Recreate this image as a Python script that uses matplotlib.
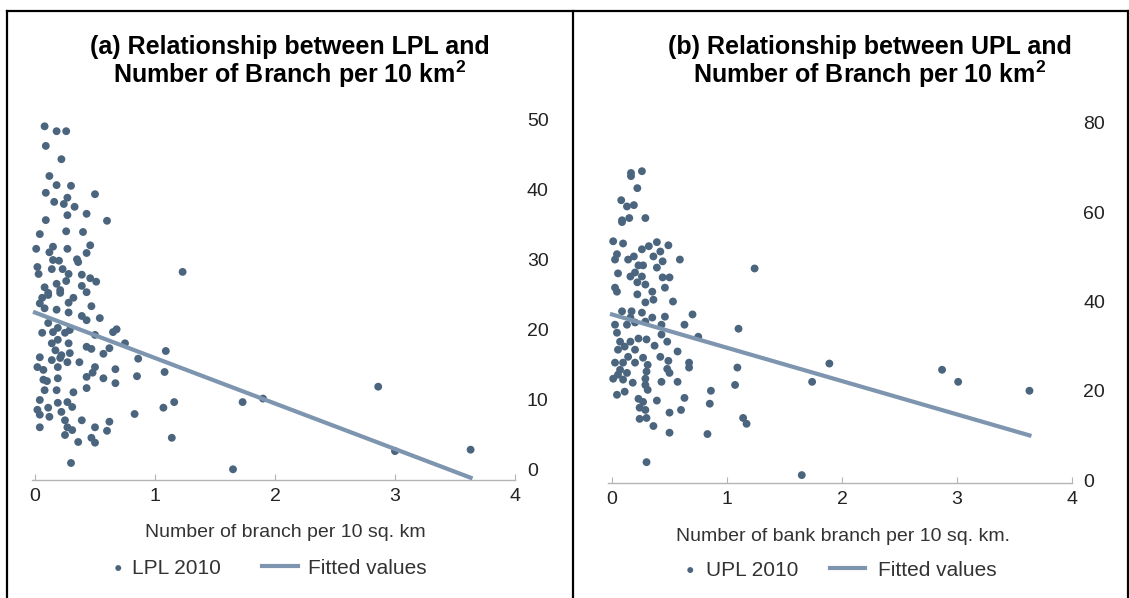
import matplotlib
matplotlib.use("Agg")
import matplotlib.pyplot as plt
from matplotlib.lines import Line2D

plt.rcParams["font.family"] = ["Liberation Sans", "DejaVu Sans"]
plt.rcParams["mathtext.fontset"] = "custom"
plt.rcParams["mathtext.rm"] = "Liberation Sans"
plt.rcParams["mathtext.bf"] = "Liberation Sans:bold"

# Panel (a): LPL 2010 vs branches per 10 sq. km
lpl_x = [0.08, 0.18, 0.26, 0.09, 0.22, 0.12, 0.18, 0.30, 0.09, 0.50,
         0.27, 0.16, 0.24, 0.33, 0.43, 0.27, 0.09, 0.60, 0.04, 0.26,
         0.40, 0.46, 0.01, 0.15, 0.12, 0.27, 0.43, 0.35, 0.36, 0.15,
         0.20, 0.02, 0.03, 0.14, 0.23, 0.28, 0.39, 0.46, 0.51, 0.26,
         0.18, 0.08, 0.39, 0.21, 0.43, 0.11, 0.06, 0.32, 1.23, 0.11,
         0.21, 0.04, 0.28, 0.47, 0.08, 0.18, 0.28, 0.39, 0.43, 0.54,
         0.11, 0.19, 0.29, 0.06, 0.15, 0.25, 0.65, 0.68, 0.50, 0.14,
         0.19, 0.28, 0.43, 0.47, 0.62, 0.75, 0.17, 0.22, 0.29, 0.57,
         0.04, 0.14, 0.21, 0.27, 0.37, 0.02, 0.07, 0.19, 0.50, 0.67,
         0.48, 0.43, 0.57, 0.07, 0.10, 0.19, 0.67, 0.08, 0.18, 0.32,
         0.43, 0.04, 0.19, 0.27, 0.31, 0.02, 0.11, 0.04, 0.12, 0.22,
         0.25, 0.39, 0.62, 0.04, 0.27, 0.31, 0.50, 0.60, 0.25, 0.47,
         0.36, 0.50, 0.30, 0.83, 1.07, 1.16, 1.14, 0.85, 0.86, 1.08,
         1.09, 1.73, 1.90, 1.65, 2.86, 3.00, 3.63]
lpl_y = [49.1, 48.4, 48.4, 46.3, 44.4, 42.0, 40.7, 40.6, 39.6, 39.4,
         38.9, 38.3, 38.0, 37.6, 36.6, 36.4, 35.7, 35.6, 33.7, 34.1,
         34.0, 32.1, 31.6, 31.9, 31.1, 31.6, 31.0, 30.1, 29.7, 30.0,
         29.9, 29.0, 28.0, 28.7, 28.7, 28.0, 27.9, 27.4, 26.9, 27.0,
         26.6, 26.1, 26.3, 25.7, 25.4, 25.0, 24.6, 24.6, 28.3, 25.3,
         25.3, 23.8, 23.9, 23.4, 23.1, 22.9, 22.5, 22.0, 21.4, 21.7,
         21.0, 20.3, 20.0, 19.6, 19.7, 19.6, 19.7, 20.1, 19.3, 18.1,
         18.6, 18.1, 17.6, 17.3, 17.4, 18.1, 17.1, 16.4, 16.7, 16.6,
         16.1, 15.7, 16.0, 15.4, 15.4, 14.7, 14.3, 14.7, 14.7, 14.4,
         13.9, 13.3, 13.1, 12.9, 12.7, 13.1, 12.4, 11.4, 11.4, 11.1,
         11.7, 10.0, 9.6, 9.7, 9.0, 8.6, 8.9, 7.9, 7.6, 8.3,
         7.1, 7.1, 6.9, 6.1, 6.1, 5.7, 6.1, 5.6, 5.0, 4.6,
         4.0, 3.9, 1.0, 8.0, 8.9, 9.7, 4.6, 13.4, 15.9, 14.0,
         17.0, 9.7, 10.2, 0.1, 11.9, 2.7, 2.9]
lpl_fit_x = [0.0, 3.63]
lpl_fit_y = [22.5, -1.1]

# Panel (b): UPL 2010 vs bank branches per 10 sq. km
upl_x = [0.165, 0.165, 0.26, 0.22, 0.08, 0.13, 0.19, 0.087, 0.087, 0.15,
         0.29, 0.01, 0.096, 0.39, 0.49, 0.32, 0.26, 0.42, 0.043, 0.19,
         0.36, 0.026, 0.14, 0.59, 0.44, 0.27, 0.23, 0.39, 0.052, 0.20,
         0.26, 0.16, 0.44, 0.50, 0.22, 0.29, 0.026, 0.46, 0.35, 0.22,
         0.043, 0.36, 0.53, 0.29, 0.087, 0.17, 0.26, 0.70, 0.16, 0.35,
         0.46, 0.026, 0.20, 0.63, 1.24, 1.10, 0.13, 0.29, 0.43, 0.043,
         0.43, 0.75, 0.07, 0.16, 0.23, 0.30, 0.37, 0.48, 0.11, 0.052,
         0.20, 0.57, 0.14, 0.27, 0.42, 0.026, 0.096, 0.20, 0.31, 0.49,
         0.67, 0.67, 0.07, 0.13, 0.30, 0.48, 0.50, 0.052, 0.096, 0.29,
         0.01, 0.18, 0.43, 0.57, 0.29, 0.31, 0.11, 0.043, 0.23, 0.27,
         0.39, 0.63, 0.24, 0.29, 0.50, 0.60, 0.24, 0.30, 0.36, 0.50,
         0.30, 1.09, 1.07, 0.86, 0.85, 0.83, 1.14, 1.17, 1.65, 1.74,
         1.89, 2.87, 3.01, 3.63]
upl_y = [68.8, 68.1, 69.2, 65.4, 62.7, 61.3, 61.6, 58.2, 57.8, 58.7,
         58.7, 53.5, 53.0, 53.3, 52.6, 52.4, 51.7, 51.2, 50.6, 50.1,
         50.1, 49.4, 49.4, 49.4, 49.0, 48.1, 48.1, 47.6, 46.3, 46.5,
         45.6, 45.6, 45.4, 45.4, 44.3, 43.8, 43.1, 43.1, 42.2, 41.6,
         42.2, 40.4, 40.0, 39.8, 37.8, 37.8, 37.5, 37.1, 36.4, 36.4,
         36.6, 34.8, 35.3, 34.8, 47.4, 33.9, 34.8, 35.5, 34.8, 33.0,
         32.6, 32.1, 31.0, 31.0, 31.7, 31.5, 30.1, 31.0, 29.9, 29.2,
         29.2, 28.8, 27.6, 27.4, 27.6, 26.3, 26.3, 26.3, 25.8, 26.7,
         26.3, 25.2, 24.7, 24.0, 24.3, 24.9, 24.0, 23.6, 22.5, 22.7,
         22.7, 21.8, 22.0, 22.0, 21.3, 20.2, 19.8, 19.1, 18.2, 17.5,
         17.8, 18.4, 16.2, 15.7, 15.1, 15.7, 13.7, 13.9, 12.1, 10.6,
         4.0, 25.2, 21.3, 20.0, 17.1, 10.3, 13.9, 12.6, 1.1, 22.0,
         26.1, 24.7, 22.0, 20.0]
upl_fit_x = [0.0, 3.63]
upl_fit_y = [37.1, 10.0]

x_ticks = [0, 1, 2, 3, 4]
lpl_yticks = [0, 10, 20, 30, 40, 50]
upl_yticks = [0, 20, 40, 60, 80]

dot_color = "#4a657d"
fit_color = "#7d95ae"
W, H = 1129, 598

fig = plt.figure(figsize=(W / 100, H / 100), dpi=100)


def style(ax, yticks, ylim, xlim, ypad):
    ax.set_xlim(*xlim)
    ax.set_ylim(*ylim)
    ax.set_xticks(x_ticks)
    ax.set_yticks(yticks)
    for s in ["top", "left", "right"]:
        ax.spines[s].set_visible(False)
    ax.spines["bottom"].set_color("#b4b4b4")
    ax.spines["bottom"].set_linewidth(1.0)
    ax.yaxis.tick_right()
    ax.tick_params(axis="y", length=0, pad=ypad, labelsize=14, labelcolor="#222222")
    ax.tick_params(axis="x", direction="in", length=4, color="#b4b4b4",
                   pad=6, labelsize=14, labelcolor="#222222")


def legend_pair(ax, dot, line, lab1, lab2, x_dot, x_line, y, pad1, hl2, pad2):
    l1 = ax.legend([dot], [lab1], loc="center left", frameon=False,
                   bbox_to_anchor=(x_dot / W, 1 - y / H), bbox_transform=fig.transFigure,
                   handlelength=0.6, handletextpad=pad1, borderpad=0, borderaxespad=0,
                   fontsize=15, labelcolor="#333333", markerscale=0.75)
    ax.add_artist(l1)
    ax.legend([line], [lab2], loc="center left", frameon=False,
              bbox_to_anchor=(x_line / W, 1 - y / H), bbox_transform=fig.transFigure,
              handlelength=hl2, handletextpad=pad2, borderpad=0, borderaxespad=0,
              fontsize=15, labelcolor="#333333")


# panel (a)
ax1 = fig.add_axes([32 / W, 1 - 480 / H, (515 - 32) / W, (480 - 120) / H])
d1 = ax1.scatter(lpl_x, lpl_y, s=32, color=dot_color, edgecolors="none", zorder=2)
f1, = ax1.plot(lpl_fit_x, lpl_fit_y, color=fit_color, lw=3, zorder=3)
style(ax1, lpl_yticks, (-1.43, 50), (-0.025, 4.0), 8.5)
ax1.set_xlabel("Number of branch per 10 sq. km", fontsize=14, color="#333333")
ax1.xaxis.set_label_coords((285 - 32) / (515 - 32), -0.122)
legend_pair(ax1, d1, f1, "LPL 2010", "Fitted values", 112, 262, 568, 0.36, 1.73, 0.48)

# panel (b)
ax2 = fig.add_axes([608 / W, 1 - 483 / H, (1072 - 608) / W, (483 - 123) / H])
d2 = ax2.scatter(upl_x, upl_y, s=32, color=dot_color, edgecolors="none", zorder=2)
f2, = ax2.plot(upl_fit_x, upl_fit_y, color=fit_color, lw=3, zorder=3)
style(ax2, upl_yticks, (-0.67, 80), (-0.035, 4.0), 8)
ax2.set_xlabel("Number of bank branch per 10 sq. km.", fontsize=14, color="#333333")
ax2.xaxis.set_label_coords((843 - 608) / (1072 - 608), -0.125)
legend_pair(ax2, d2, f2, "UPL 2010", "Fitted values", 684, 830, 570, 0.46, 1.68, 0.62)

# titles
title_kw = dict(ha="center", va="center", fontsize=18, fontweight="bold")
fig.text(290 / W, 1 - 47 / H, "(a) Relationship between LPL and", **title_kw)
fig.text(290 / W, 1 - 74 / H, r"Number of Branch per 10 km$^{\mathbf{2}}$", **title_kw)
fig.text(870 / W, 1 - 47 / H, "(b) Relationship between UPL and", **title_kw)
fig.text(870 / W, 1 - 74 / H, r"Number of Branch per 10 km$^{\mathbf{2}}$", **title_kw)

# table-like frame around the two panels
for xs, ys in [([7, 1128], [11, 11]), ([7, 7], [11, 598]),
               ([573, 573], [11, 598]), ([1128, 1128], [11, 598])]:
    fig.add_artist(Line2D([v / W for v in xs], [1 - v / H for v in ys],
                          transform=fig.transFigure, color="black", lw=1.6))

fig.savefig("out.png", dpi=100)
